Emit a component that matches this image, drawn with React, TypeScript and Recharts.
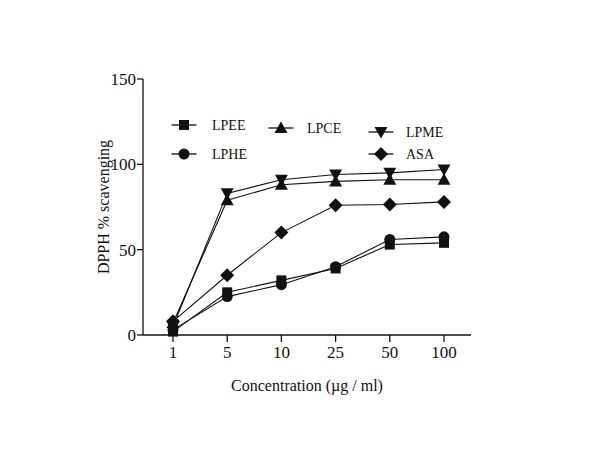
import React from 'react'
import { LineChart, Line, XAxis, YAxis } from 'recharts'

const categories = ['1', '5', '10', '25', '50', '100']
const lpee = [2, 25, 32, 39, 53, 54]
const lphe = [3, 22.5, 29.5, 40, 56, 57.5]
const lpce = [7, 79, 88, 90, 91, 91]
const lpme = [5, 83, 91, 94, 95, 97]
const asa = [8, 35, 60, 76, 76.5, 78]
const yTicks = [0, 50, 100, 150]

const FONT = '"Liberation Serif", "Times New Roman", serif'
const INK = '#111'

type Shape = 'square' | 'circle' | 'triangle' | 'invTriangle' | 'diamond'

const series: { key: string; name: string; values: number[]; shape: Shape }[] = [
  { key: 'lpee', name: 'LPEE', values: lpee, shape: 'square' },
  { key: 'lphe', name: 'LPHE', values: lphe, shape: 'circle' },
  { key: 'lpce', name: 'LPCE', values: lpce, shape: 'triangle' },
  { key: 'lpme', name: 'LPME', values: lpme, shape: 'invTriangle' },
  { key: 'asa', name: 'ASA', values: asa, shape: 'diamond' },
]

const data = categories.map((c, i) => {
  const row: any = { conc: c }
  series.forEach(s => { row[s.key] = s.values[i] })
  return row
})

// legend placement inside the plot (marker centre, text start)
const legendSpots: Record<string, { x: number; y: number; tx: number }> = {
  LPEE: { x: 184, y: 125, tx: 212 },
  LPCE: { x: 281, y: 128, tx: 307 },
  LPME: { x: 381, y: 132, tx: 406 },
  LPHE: { x: 184, y: 154, tx: 212 },
  ASA: { x: 381, y: 154, tx: 406 },
}

function marker(shape: Shape, cx: number, cy: number, key?: any) {
  switch (shape) {
    case 'square':
      return <rect key={key} x={cx - 5} y={cy - 5} width={10} height={10} fill={INK} />
    case 'circle':
      return <circle key={key} cx={cx} cy={cy} r={5.5} fill={INK} />
    case 'triangle':
      return <polygon key={key} points={`${cx},${cy - 6.5} ${cx + 6.5},${cy + 5} ${cx - 6.5},${cy + 5}`} fill={INK} />
    case 'invTriangle':
      return <polygon key={key} points={`${cx},${cy + 6.5} ${cx + 6.5},${cy - 5} ${cx - 6.5},${cy - 5}`} fill={INK} />
    default:
      return <polygon key={key} points={`${cx},${cy - 7} ${cx + 7},${cy} ${cx},${cy + 7} ${cx - 7},${cy}`} fill={INK} />
  }
}

export default function App() {
  return (
    <div style={{ position: 'absolute', left: 0, top: 0, width: 600, height: 450, background: '#fff' }}>
      <LineChart
        width={600}
        height={450}
        data={data}
        margin={{ top: 79, right: 129, left: 0, bottom: 55 }}
      >
        <XAxis
          dataKey="conc"
          height={60}
          padding={{ left: 30, right: 27 }}
          tickSize={7}
          tickMargin={4}
          axisLine={{ stroke: INK, strokeWidth: 1.3 }}
          tickLine={{ stroke: INK, strokeWidth: 1.3 }}
          tick={{ fill: INK, fontSize: 17, fontFamily: FONT }}
          label={{ value: 'Concentration (µg / ml)', position: 'insideBottom', offset: 4, fill: INK, fontSize: 16, fontFamily: FONT }}
        />
        <YAxis
          width={143}
          domain={[0, 150]}
          ticks={yTicks}
          tickSize={6}
          tickMargin={1}
          axisLine={{ stroke: INK, strokeWidth: 1.3 }}
          tickLine={{ stroke: INK, strokeWidth: 1.3 }}
          tick={{ fill: INK, fontSize: 17, fontFamily: FONT }}
          label={{ value: 'DPPH % scavenging', angle: -90, position: 'insideLeft', offset: 103, fill: INK, fontSize: 16, fontFamily: FONT, style: { textAnchor: 'middle' } }}
        />
        {series.map(s => (
          <Line
            key={s.key}
            dataKey={s.key}
            name={s.name}
            type="linear"
            stroke={INK}
            strokeWidth={1.1}
            isAnimationActive={false}
            dot={(p: any) => marker(s.shape, p.cx, p.cy, `${s.key}-${p.index}`)}
            activeDot={false}
          />
        ))}
      </LineChart>
      <svg width={600} height={450} style={{ position: 'absolute', left: 0, top: 0, pointerEvents: 'none' }}>
        {series.map(s => {
          const p = legendSpots[s.name]
          return (
            <g key={s.key}>
              <line x1={p.x - 12.5} x2={p.x + 12.5} y1={p.y} y2={p.y} stroke={INK} strokeWidth={1.3} />
              {marker(s.shape, p.x, p.y)}
              <text x={p.tx} y={p.y} dominantBaseline="central" fontSize={14} fontFamily={FONT} fill={INK}>
                {s.name}
              </text>
            </g>
          )
        })}
      </svg>
    </div>
  )
}
